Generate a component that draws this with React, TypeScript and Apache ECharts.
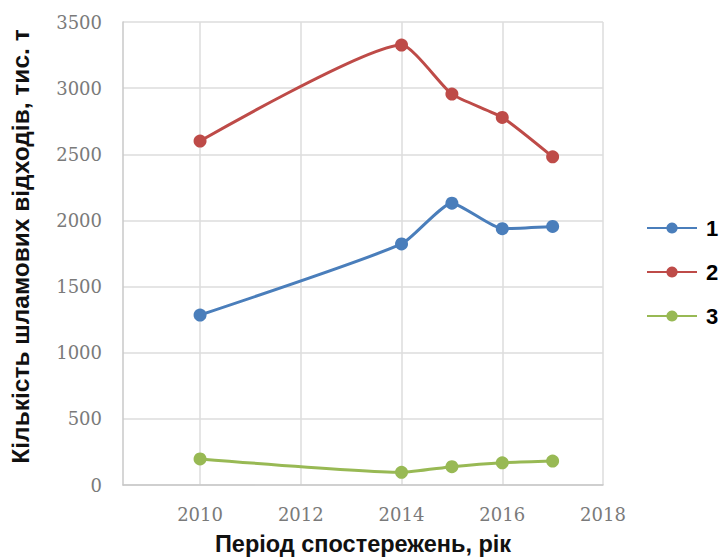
import React, { useEffect, useRef } from "react";
import * as echarts from "echarts";

const years = [2010, 2014, 2015, 2016, 2017];
const series1 = [1285, 1822, 2130, 1938, 1955];
const series2 = [2600, 3326, 2955, 2779, 2481];
const series3 = [197, 96, 138, 168, 181];
const seriesNames = ["1", "2", "3"];
const colors = ["#4A7EBB", "#BE4B48", "#98B954"];
const xTicks = [2010, 2012, 2014, 2016, 2018];

export default function App() {
  const ref = useRef<HTMLDivElement>(null);
  useEffect(() => {
    const chart = echarts.init(ref.current!, null, { renderer: "svg" });
    const all = [series1, series2, series3];
    const tickFont = { fontFamily: "'DejaVu Serif', serif", fontSize: 18, color: "#7a7a7a" };
    chart.setOption({
      animation: false,
      backgroundColor: "#ffffff",
      grid: { left: 123, right: 119, top: 22, bottom: 75, containLabel: false, outerBoundsMode: "none" },
      legend: {
        orient: "vertical",
        left: 641,
        top: 212,
        itemGap: 22,
        itemWidth: 50,
        itemHeight: 14,
        data: seriesNames,
        textStyle: { fontFamily: "Liberation Sans", fontWeight: "bold", fontSize: 22, color: "#000", padding: [0, 0, 0, 4] },
      },
      xAxis: {
        type: "value",
        min: 2008.47,
        max: 2018,
        name: "Період спостережень, рік",
        nameLocation: "middle",
        nameGap: 47,
        nameTextStyle: { fontFamily: "Liberation Sans", fontWeight: "bold", fontSize: 23.5, color: "#111" },
        axisLine: { show: true, lineStyle: { color: "#c8c8c8", width: 1.5 } },
        axisTick: { show: false, customValues: xTicks },
        axisLabel: {
          customValues: xTicks,
          formatter: (v: number) => String(v),
          ...tickFont,
          margin: 20,
        },
        splitLine: { show: true, lineStyle: { color: "#dcdcdc", width: 1.5 } },
      },
      yAxis: {
        type: "value",
        min: 0,
        max: 3500,
        interval: 500,
        name: "Кількість шламових відходів, тис. т",
        nameLocation: "middle",
        nameGap: 90,
        nameTextStyle: {
          fontFamily: "Liberation Sans",
          fontWeight: "bold",
          fontSize: 24.5,
          color: "#111",
          padding: [0, 0, 0, 14],
        },
        axisLine: { show: true, lineStyle: { color: "#c8c8c8", width: 1.5 } },
        axisTick: { show: false },
        axisLabel: { formatter: (v: number) => String(v), ...tickFont, margin: 21 },
        splitLine: { show: true, lineStyle: { color: "#dcdcdc", width: 1.5 } },
      },
      series: all.map((vals, i) => ({
        name: seriesNames[i],
        type: "line",
        smooth: 0.18,
        symbol: "circle",
        symbolSize: 13,
        color: colors[i],
        lineStyle: { width: 3, color: colors[i] },
        itemStyle: { color: colors[i] },
        data: years.map((y, j) => [y, vals[j]]),
      })),
    });
    return () => chart.dispose();
  }, []);
  return (
    <div
      ref={ref}
      style={{ width: 722, height: 560, position: "fixed", left: 0, top: 0 }}
    />
  );
}
